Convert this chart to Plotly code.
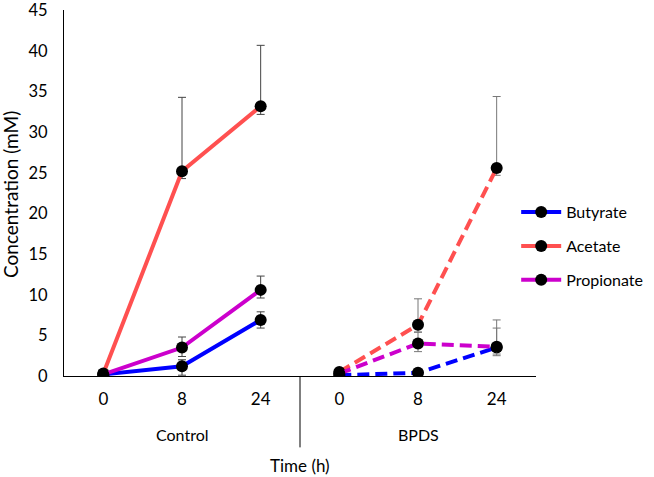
import plotly.graph_objects as go

categories = ["Control|0", "Control|8", "Control|24", "BPDS|0", "BPDS|8", "BPDS|24"]
tick_labels = ["0", "8", "24", "0", "8", "24"]
groups = ["Control", "BPDS"]

series_names = ["Butyrate", "Acetate", "Propionate"]
colors = {"Butyrate": "#0000FF", "Acetate": "#FF5050", "Propionate": "#CC00CC"}

# Control values (0, 8, 24 h)
control_butyrate = [0.2, 1.2, 6.9]
control_acetate = [0.3, 25.2, 33.2]
control_propionate = [0.2, 3.5, 10.6]
# BPDS values
bpds_butyrate = [0.1, 0.4, 3.5]
bpds_acetate = [0.5, 6.3, 25.6]
bpds_propionate = [0.3, 4.0, 3.6]

# error bars (plus / minus)
control_butyrate_up = [0.0, 0.8, 1.0]
control_butyrate_dn = [0.0, 1.1, 1.0]
control_acetate_up = [0.0, 9.1, 7.5]
control_acetate_dn = [0.0, 0.9, 1.0]
control_propionate_up = [0.0, 1.3, 1.7]
control_propionate_dn = [0.0, 1.1, 1.0]
bpds_butyrate_up = [0.0, 0.0, 2.4]
bpds_butyrate_dn = [0.0, 0.0, 1.0]
bpds_acetate_up = [0.0, 3.2, 8.8]
bpds_acetate_dn = [0.0, 0.9, 0.9]
bpds_propionate_up = [0.0, 1.4, 3.3]
bpds_propionate_dn = [0.0, 1.0, 0.9]

y_ticks = [0, 5, 10, 15, 20, 25, 30, 35, 40, 45]

data = {
    "Butyrate": (control_butyrate, control_butyrate_up, control_butyrate_dn,
                 bpds_butyrate, bpds_butyrate_up, bpds_butyrate_dn),
    "Acetate": (control_acetate, control_acetate_up, control_acetate_dn,
                bpds_acetate, bpds_acetate_up, bpds_acetate_dn),
    "Propionate": (control_propionate, control_propionate_up, control_propionate_dn,
                   bpds_propionate, bpds_propionate_up, bpds_propionate_dn),
}

FONT = "Lato, Open Sans, sans-serif"

fig = go.Figure()

for name in series_names:
    cv, cu, cd, bv, bu, bd = data[name]
    fig.add_trace(go.Scatter(
        x=categories[:3], y=cv, mode="lines+markers", name=name,
        legendgroup=name,
        line=dict(color=colors[name], width=4),
        marker=dict(color="black", size=12),
        error_y=dict(type="data", array=cu, arrayminus=cd, color="#444444",
                     thickness=1, width=4),
    ))
    fig.add_trace(go.Scatter(
        x=categories[3:], y=bv, mode="lines+markers", name=name,
        legendgroup=name, showlegend=False,
        line=dict(color=colors[name], width=4, dash="12px,6px"),
        marker=dict(color="black", size=12),
        error_y=dict(type="data", array=bu, arrayminus=bd, color="#777777",
                     thickness=1, width=4),
    ))

# group labels
for g, cat in zip(groups, [categories[1], categories[4]]):
    fig.add_annotation(x=cat, y=-0.161, xref="x", yref="paper", text=g,
                       showarrow=False, yanchor="middle",
                       font=dict(size=16, family=FONT, color="black"))

# axis titles
fig.add_annotation(x=0.5, y=-0.244, xref="paper", yref="paper", text="Time (h)",
                   showarrow=False, yanchor="middle",
                   font=dict(size=17, family=FONT, color="black"))
fig.add_annotation(x=-0.112, y=0.495, xref="paper", yref="paper", text="Concentration (mM)",
                   showarrow=False, textangle=-90, xanchor="center", yanchor="middle",
                   font=dict(size=19, family=FONT, color="black"))

# divider between groups
fig.add_shape(type="line", xref="x", yref="paper", x0=2.5, x1=2.5, y0=0, y1=-0.195,
              line=dict(color="black", width=1))

fig.update_layout(
    width=654, height=477,
    margin=dict(l=64, r=118, t=10, b=101, autoexpand=False),
    plot_bgcolor="white", paper_bgcolor="white",
    font=dict(family=FONT, size=16, color="black"),
    showlegend=True,
    legend=dict(x=0.958, y=0.494, xanchor="left", yanchor="top",
                font=dict(size=16, family=FONT), traceorder="grouped",
                itemwidth=40, tracegroupgap=10, bgcolor="rgba(0,0,0,0)"),
    xaxis=dict(type="category", categoryorder="array", categoryarray=categories,
               tickvals=categories, ticktext=tick_labels, range=[-0.5, 5.5],
               showline=True, linecolor="black", linewidth=1, ticks="",
               showgrid=False, zeroline=False, automargin=False,
               ticklabelstandoff=8, tickfont=dict(size=17)),
    yaxis=dict(range=[0, 45.05], tickvals=y_ticks,
               showline=True, linecolor="black", linewidth=1,
               ticks="", showgrid=False, zeroline=False, automargin=False,
               ticklabelstandoff=12, ticklabeloverflow="allow", tickfont=dict(size=16.5)),
)

fig.write_html("out.html", config={"displayModeBar": False},
               post_script="document.body.style.margin='0';document.body.style.padding='0';")
